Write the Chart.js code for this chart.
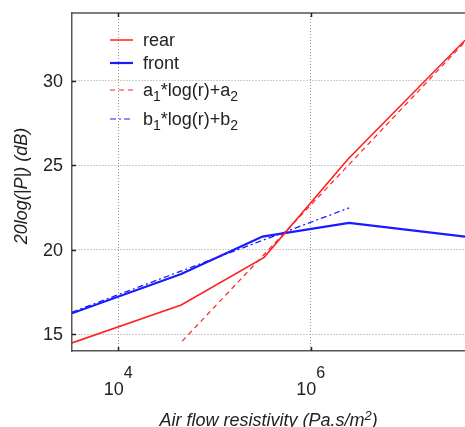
<!DOCTYPE html>
<html>
<head>
<meta charset="utf-8">
<script src="https://cdn.jsdelivr.net/npm/chart.js@4/dist/chart.umd.min.js"></script>
<style>
  html, body { margin: 0; padding: 0; background: #fff; }
</style>
</head>
<body>
<canvas id="chart" width="465" height="427"></canvas>
<script>
/* global Chart */

// axis ticks
var xTicks = [1e4, 1e6];
var yTicks = [15, 20, 25, 30];

// measured curves (resistivity in Pa.s/m2, level in dB)
var rearR = [3311, 45186, 328852, 2455000, 40270000];
var rearDb = [14.48, 16.72, 19.54, 25.36, 32.39];
var frontR = [3311, 45186, 316228, 2512000, 40270000];
var frontDb = [16.23, 18.56, 20.77, 21.58, 20.77];

// fitted lines
var fitAR = [46238, 40270000];
var fitADb = [14.58, 32.3];
var fitBR = [3311, 2512000];
var fitBDb = [16.3, 22.47];

function toPoints(xs, ys) {
  return xs.map(function (x, i) { return { x: x, y: ys[i] }; });
}

var FONT = "'Liberation Sans', Arial, sans-serif";

// text with sub/superscript parts: [[text, shift], ...]; shift 0 normal, 1 sup, -1 sub
function drawRich(ctx, parts, x, y, size, opts) {
  var style = opts.italic ? "italic " : "";
  var small = Math.round(size * (opts.scale || 0.75));
  var total = 0;
  parts.forEach(function (p) {
    ctx.font = style + (p[1] ? small : size) + "px " + FONT;
    total += ctx.measureText(p[0]).width;
  });
  var cx = opts.align === "center" ? x - total / 2 : x;
  ctx.textAlign = "left";
  ctx.textBaseline = "alphabetic";
  parts.forEach(function (p) {
    ctx.font = style + (p[1] ? small : size) + "px " + FONT;
    var dy = p[1] === 1 ? -(opts.sup || size * 0.95) : p[1] === -1 ? size * 0.3 : 0;
    ctx.fillText(p[0], cx, y + dy);
    cx += ctx.measureText(p[0]).width;
  });
}

var decor = {
  id: "decor",
  afterDraw: function (chart) {
    var ctx = chart.ctx;
    var a = chart.chartArea;
    var xs = chart.scales.x;
    var ys = chart.scales.y;
    ctx.save();

    // top frame
    ctx.strokeStyle = "#555";
    ctx.lineWidth = 1.5;
    ctx.beginPath();
    ctx.moveTo(a.left, a.top);
    ctx.lineTo(a.right, a.top);
    ctx.stroke();

    // inward tick marks
    ctx.strokeStyle = "#222";
    ctx.lineWidth = 1.5;
    xTicks.forEach(function (v) {
      var px = Math.round(xs.getPixelForValue(v)) + 0.5;
      ctx.beginPath();
      ctx.moveTo(px, a.bottom);
      ctx.lineTo(px, a.bottom - 4);
      ctx.moveTo(px, a.top);
      ctx.lineTo(px, a.top + 4);
      ctx.stroke();
    });
    yTicks.forEach(function (v) {
      var py = Math.round(ys.getPixelForValue(v)) + 0.5;
      ctx.beginPath();
      ctx.moveTo(a.left, py);
      ctx.lineTo(a.left + 4, py);
      ctx.stroke();
    });

    ctx.fillStyle = "#222";

    // y tick labels
    ctx.font = "18px " + FONT;
    ctx.textAlign = "right";
    ctx.textBaseline = "middle";
    yTicks.forEach(function (v) {
      ctx.fillText(String(v), a.left - 9, ys.getPixelForValue(v) + 1);
    });

    // x tick labels 10^n
    xTicks.forEach(function (v) {
      var e = Math.round(Math.log10(v));
      drawRich(ctx, [["10", 0], [String(e), 1]], xs.getPixelForValue(v), 395, 18,
        { align: "center", scale: 0.9, sup: 17 });
    });

    // axis titles
    drawRich(ctx, [["Air flow resistivity (Pa.s/m", 0], ["2", 1], [")", 0]],
      (a.left + a.right) / 2, 426, 18, { italic: true, align: "center", scale: 0.72, sup: 6 });

    ctx.save();
    ctx.translate(27, (a.top + a.bottom) / 2 + 4);
    ctx.rotate(-Math.PI / 2);
    drawRich(ctx, [["20log(|P|) (dB)", 0]], 0, 0, 18, { italic: true, align: "center" });
    ctx.restore();

    // legend
    var rows = [
      { y: 40, color: "#ff2020", width: 1.5, dash: [], parts: [["rear", 0]] },
      { y: 63, color: "#1a1aff", width: 2.2, dash: [], parts: [["front", 0]] },
      { y: 90, color: "#ff2020", width: 1.2, dash: [5, 4], parts: [["a", 0], ["1", -1], ["*log(r)+a", 0], ["2", -1]] },
      { y: 119, color: "#1a1aff", width: 1.2, dash: [6, 3, 2, 3], parts: [["b", 0], ["1", -1], ["*log(r)+b", 0], ["2", -1]] }
    ];
    rows.forEach(function (r) {
      ctx.strokeStyle = r.color;
      ctx.lineWidth = r.width;
      ctx.setLineDash(r.dash);
      ctx.beginPath();
      ctx.moveTo(110, r.y);
      ctx.lineTo(133, r.y);
      ctx.stroke();
      ctx.setLineDash([]);
      ctx.fillStyle = "#222";
      drawRich(ctx, r.parts, 143, r.y + 6, 18, { align: "left" });
    });

    ctx.restore();
  }
};

new Chart(document.getElementById("chart"), {
  type: "scatter",
  data: {
    datasets: [
      {
        label: "rear",
        data: toPoints(rearR, rearDb),
        showLine: true,
        borderColor: "#ff2020",
        borderWidth: 1.6,
        pointRadius: 0,
      },
      {
        label: "front",
        data: toPoints(frontR, frontDb),
        showLine: true,
        borderColor: "#1a1aff",
        borderWidth: 2.2,
        pointRadius: 0,
      },
      {
        label: "a1*log(r)+a2",
        data: toPoints(fitAR, fitADb),
        showLine: true,
        borderColor: "#ff2020",
        borderWidth: 1.2,
        borderDash: [5, 4],
        pointRadius: 0,
      },
      {
        label: "b1*log(r)+b2",
        data: toPoints(fitBR, fitBDb),
        showLine: true,
        borderColor: "#1a1aff",
        borderWidth: 1.3,
        borderDash: [6, 3, 2, 3],
        pointRadius: 0,
      },
    ],
  },
  options: {
    responsive: false,
    animation: false,
    layout: { padding: { left: 0, top: 13, right: 0, bottom: 0 } },
    plugins: {
      legend: { display: false },
      tooltip: { enabled: false },
    },
    scales: {
      x: {
        type: "logarithmic",
        min: Math.pow(10, 3.52),
        max: Math.pow(10, 7.605),
        afterBuildTicks: function (s) {
          s.ticks = xTicks.map(function (v) { return { value: v }; });
        },
        afterFit: function (s) { s.height = 76; },
        ticks: { display: false },
        grid: { color: "#999", lineWidth: 1, drawTicks: false },
        border: { color: "#555", width: 1.5, dash: [1, 2] },
      },
      y: {
        min: 14,
        max: 34,
        afterBuildTicks: function (s) {
          s.ticks = yTicks.map(function (v) { return { value: v }; });
        },
        afterFit: function (s) { s.width = 72; },
        ticks: { display: false },
        grid: { color: "#999", lineWidth: 1, drawTicks: false },
        border: { color: "#555", width: 1.5, dash: [1, 2] },
      },
    },
  },
  plugins: [decor],
});
</script>
</body>
</html>
